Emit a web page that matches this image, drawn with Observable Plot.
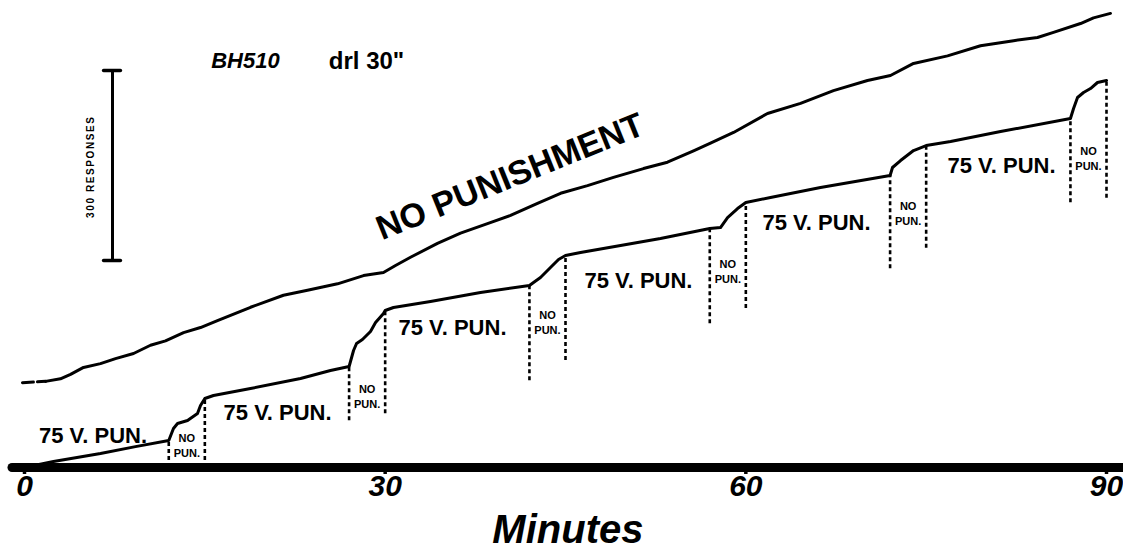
<!DOCTYPE html>
<html>
<head>
<meta charset="utf-8">
<script src="https://cdn.jsdelivr.net/npm/d3@7"></script>
<script src="https://cdn.jsdelivr.net/npm/@observablehq/plot@0.6"></script>
<style>
  html, body { margin: 0; padding: 0; background: #fff; }
  #chart svg { display: block; background: #fff; }
</style>
</head>
<body>
<div id="chart"></div>
<script>
// ---- data (minutes, cumulative responses) ----
const minuteTicks = [0, 30, 60, 90];

// No-punishment record (upper curve)
const controlLeadT = [-0.17, 1.75];
const controlLeadR = [134, 136];
const controlT = [1.75, 2.99, 3.83, 4.91, 6.32, 7.57, 9.07, 10.48, 11.73, 13.23, 14.64, 16.05, 18.8, 21.54, 23.54, 26.04, 28.2, 29.86, 30.86, 32.11, 34.35, 36.27, 38.51, 40.43, 42.67, 44.59, 46.83, 48.99, 51.49, 53.48, 55.65, 57.06, 58.98, 61.8, 64.55, 67.29, 70.12, 72.03, 73.95, 76.78, 79.52, 82.27, 84.26, 85.59, 87.84, 88.92, 90.33];
const controlR = [136, 140, 147, 158, 164, 172, 180, 193, 200, 213, 221, 232, 253, 272, 280, 290, 303, 308, 319, 332, 354, 370, 385, 398, 417, 433, 445, 458, 472, 482, 500, 512, 529, 559, 575, 595, 611, 619, 638, 650, 666, 674, 679, 687, 701, 710, 717];

// 75 V punishment record (lower curve)
const punT = [0, 2.41, 6.32, 9.23, 12, 12.39, 12.73, 13.56, 14.39, 14.64, 15, 15.72, 18.8, 22.96, 25.45, 27, 27.37, 27.62, 28.11, 28.78, 29.2, 29.86, 30, 30.69, 33.77, 37.93, 42, 42.34, 42.92, 43.75, 44.42, 45, 46.25, 49.58, 52.9, 57, 57.89, 58.48, 59.31, 60, 62.05, 66.21, 72, 72.2, 72.87, 73.95, 75, 77.03, 81.19, 87, 87.26, 87.59, 88.09, 88.67, 89.25, 90];
const punR = [0, 9.5, 22, 33, 42.6, 61.6, 69.5, 74.2, 85.3, 97.9, 108.9, 113.7, 124.7, 140.5, 153.2, 159.5, 184.7, 195.8, 202.1, 214.7, 228.9, 243.2, 247.9, 252.6, 262.1, 276.3, 287.4, 292.1, 300, 315.8, 328.4, 334.7, 339.5, 350.5, 361.6, 377.4, 378.9, 394.7, 408.9, 418.4, 426.3, 442.1, 461, 473.7, 484.7, 500.5, 508.4, 514.7, 530.5, 551, 566.8, 584.2, 592.1, 598.4, 607.9, 611.1];

// Phase boundaries (dotted pips) and how far down each pip runs
const phaseBounds = [12, 15, 27, 30, 42, 45, 57, 60, 72, 75, 87, 90];
const pipBottomR = [0, 0, 74, 85, 137, 169, 227, 251, 314, 346, 418, 425];

// Labels
const punLabel = "75 V. PUN.";
const punLabelT = [5.7, 21.05, 35.6, 51.07, 65.88, 81.27];
const punLabelR = [50.5, 86.8, 221.1, 295.3, 386.8, 476.8];
const noPunLabel = "NO\nPUN.";
const noPunLabelR = [35.5, 112.9, 229.7, 310.3, 401.8, 489.5];
const controlLabel = "NO PUNISHMENT";
const controlLabelT = 40.4, controlLabelR = 459;
const subjectLabel = "BH510", subjectT = 18.38, subjectR = 642;
const scheduleLabel = "drl 30\"", scheduleT = 28.45, scheduleR = 642;
const scaleBarT = 7.32, scaleBarR = [327, 627];
const scaleBarLabel = "300 RESPONSES", scaleLabelT = 5.49, scaleLabelR = 475;
const xLabel = "Minutes";

// ---- build tables ----
const control = controlT.map((t, i) => ({t, r: controlR[i]}));
const controlLead = controlLeadT.map((t, i) => ({t, r: controlLeadR[i]}));
const pun = punT.map((t, i) => ({t, r: punR[i]}));
const pips = phaseBounds.map((t, i) => {
  const p = pun.find(d => Math.abs(d.t - t) < 1e-9);
  return {t, top: p.r, bottom: pipBottomR[i]};
});
const punLabels = punLabelT.map((t, i) => ({t, r: punLabelR[i]}));
const noPunLabels = noPunLabelR.map((r, i) => ({t: (phaseBounds[2*i] + phaseBounds[2*i+1]) / 2, r}));

const font = "'Liberation Sans', Arial, sans-serif";
const capHalf = 0.7;

const chart = Plot.plot({
  width: 1123,
  height: 553,
  marginLeft: 24,
  marginRight: 17,
  marginTop: 10,
  marginBottom: 86,
  style: {fontFamily: font, background: "#fff", color: "#000"},
  x: {domain: [0, 90]},
  y: {domain: [0, 721.6], axis: null},
  marks: [
    // thick baseline
    Plot.ruleY([0], {x1: -1, x2: 92, stroke: "#000", strokeWidth: 9, strokeLinecap: "round"}),
    Plot.axisX({
      ticks: minuteTicks, tickSize: 7, tickPadding: 0, stroke: "#000", strokeWidth: 3.5,
      fontSize: 30, fontWeight: "bold", fontStyle: "italic", label: null, fill: "#000"
    }),
    Plot.text([xLabel], {frameAnchor: "bottom", x: () => 45.2, dy: 63, lineAnchor: "middle",
      fontSize: 40, fontWeight: "bold", fontStyle: "italic", fill: "#000"}),
    // pips
    Plot.ruleX(pips, {x: "t", y1: "bottom", y2: "top", stroke: "#000", strokeWidth: 2.6, strokeDasharray: "4,3"}),
    // curves
    Plot.line(controlLead, {x: "t", y: "r", stroke: "#000", strokeWidth: 3, strokeDasharray: "11,4"}),
    Plot.line(control, {x: "t", y: "r", stroke: "#000", strokeWidth: 3, strokeLinejoin: "round", strokeLinecap: "round"}),
    Plot.line(pun, {x: "t", y: "r", stroke: "#000", strokeWidth: 3, strokeLinejoin: "round", strokeLinecap: "round"}),
    // labels
    Plot.text(punLabels, {x: "t", y: "r", text: () => punLabel, fontSize: 22, fontWeight: "bold", fill: "#000"}),
    Plot.text(noPunLabels, {x: "t", y: "r", text: () => noPunLabel, fontSize: 11, fontWeight: "bold", lineHeight: 1.35, fill: "#000"}),
    Plot.text([controlLabel], {x: () => controlLabelT, y: () => controlLabelR, rotate: -22, fontSize: 34, fontWeight: "bold", fill: "#000"}),
    Plot.text([subjectLabel], {x: () => subjectT, y: () => subjectR, fontSize: 22, fontWeight: "bold", fontStyle: "italic", fill: "#000"}),
    Plot.text([scheduleLabel], {x: () => scheduleT, y: () => scheduleR, fontSize: 24, fontWeight: "bold", fill: "#000"}),
    // scale bar
    Plot.ruleX([scaleBarT], {y1: scaleBarR[0], y2: scaleBarR[1], stroke: "#000", strokeWidth: 3}),
    Plot.ruleY(scaleBarR, {x1: scaleBarT - capHalf, x2: scaleBarT + capHalf, stroke: "#000", strokeWidth: 3.5, strokeLinecap: "round"}),
    Plot.text([scaleBarLabel], {x: () => scaleLabelT, y: () => scaleLabelR, rotate: -90, fontSize: 10, fontWeight: "bold", fill: "#000"})
  ]
});

d3.select(chart).selectAll("text").filter(function() { return this.textContent === scaleBarLabel; })
  .attr("letter-spacing", "1.6");

document.getElementById("chart").appendChild(chart);
</script>
</body>
</html>
